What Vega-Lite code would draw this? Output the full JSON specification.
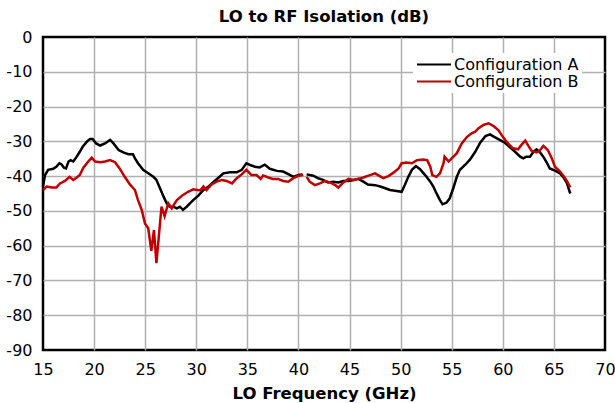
{
  "$schema": "https://vega.github.io/schema/vega-lite/v6.json",
  "width": 562,
  "height": 313,
  "autosize": {"type": "none"},
  "padding": {"left": 43, "top": 37, "right": 10, "bottom": 53},
  "background": "white",
  "title": {"text": "LO to RF Isolation (dB)", "font": "DejaVu Sans", "fontSize": 16.5, "fontWeight": "bold", "color": "black", "anchor": "middle", "baseline": "alphabetic", "offset": -9},
  "data": {"values": [
    {"series": "Configuration A", "freq": 15.0, "db": -43.0},
    {"series": "Configuration A", "freq": 15.2, "db": -39.7},
    {"series": "Configuration A", "freq": 15.5, "db": -38.2},
    {"series": "Configuration A", "freq": 16.0, "db": -37.9},
    {"series": "Configuration A", "freq": 16.3, "db": -37.3},
    {"series": "Configuration A", "freq": 16.6, "db": -36.3},
    {"series": "Configuration A", "freq": 16.8, "db": -36.6},
    {"series": "Configuration A", "freq": 17.05, "db": -37.6},
    {"series": "Configuration A", "freq": 17.25, "db": -37.8},
    {"series": "Configuration A", "freq": 17.5, "db": -35.8},
    {"series": "Configuration A", "freq": 17.7, "db": -35.4},
    {"series": "Configuration A", "freq": 17.97, "db": -35.8},
    {"series": "Configuration A", "freq": 18.3, "db": -34.4},
    {"series": "Configuration A", "freq": 18.6, "db": -33.0},
    {"series": "Configuration A", "freq": 18.9, "db": -31.5},
    {"series": "Configuration A", "freq": 19.3, "db": -30.1},
    {"series": "Configuration A", "freq": 19.6, "db": -29.3},
    {"series": "Configuration A", "freq": 19.86, "db": -29.3},
    {"series": "Configuration A", "freq": 20.2, "db": -30.6},
    {"series": "Configuration A", "freq": 20.6, "db": -31.2},
    {"series": "Configuration A", "freq": 21.07, "db": -30.6},
    {"series": "Configuration A", "freq": 21.56, "db": -29.6},
    {"series": "Configuration A", "freq": 21.9, "db": -30.6},
    {"series": "Configuration A", "freq": 22.4, "db": -32.5},
    {"series": "Configuration A", "freq": 22.86, "db": -33.2},
    {"series": "Configuration A", "freq": 23.35, "db": -33.7},
    {"series": "Configuration A", "freq": 23.8, "db": -33.7},
    {"series": "Configuration A", "freq": 24.0, "db": -34.9},
    {"series": "Configuration A", "freq": 24.3, "db": -36.3},
    {"series": "Configuration A", "freq": 24.8, "db": -38.2},
    {"series": "Configuration A", "freq": 25.3, "db": -39.2},
    {"series": "Configuration A", "freq": 25.8, "db": -40.2},
    {"series": "Configuration A", "freq": 26.1, "db": -41.1},
    {"series": "Configuration A", "freq": 26.45, "db": -43.5},
    {"series": "Configuration A", "freq": 26.8, "db": -45.9},
    {"series": "Configuration A", "freq": 27.1, "db": -47.8},
    {"series": "Configuration A", "freq": 27.4, "db": -48.8},
    {"series": "Configuration A", "freq": 27.75, "db": -48.8},
    {"series": "Configuration A", "freq": 28.1, "db": -49.3},
    {"series": "Configuration A", "freq": 28.4, "db": -48.8},
    {"series": "Configuration A", "freq": 28.7, "db": -49.7},
    {"series": "Configuration A", "freq": 29.06, "db": -48.8},
    {"series": "Configuration A", "freq": 29.4, "db": -47.8},
    {"series": "Configuration A", "freq": 29.7, "db": -46.9},
    {"series": "Configuration A", "freq": 30.2, "db": -45.6},
    {"series": "Configuration A", "freq": 30.7, "db": -44.0},
    {"series": "Configuration A", "freq": 31.2, "db": -43.0},
    {"series": "Configuration A", "freq": 31.7, "db": -41.6},
    {"series": "Configuration A", "freq": 32.2, "db": -40.4},
    {"series": "Configuration A", "freq": 32.65, "db": -39.2},
    {"series": "Configuration A", "freq": 33.3, "db": -38.9},
    {"series": "Configuration A", "freq": 33.96, "db": -38.9},
    {"series": "Configuration A", "freq": 34.45, "db": -38.2},
    {"series": "Configuration A", "freq": 34.9, "db": -36.3},
    {"series": "Configuration A", "freq": 35.26, "db": -36.8},
    {"series": "Configuration A", "freq": 35.75, "db": -37.3},
    {"series": "Configuration A", "freq": 36.2, "db": -37.5},
    {"series": "Configuration A", "freq": 36.7, "db": -36.7},
    {"series": "Configuration A", "freq": 37.2, "db": -37.9},
    {"series": "Configuration A", "freq": 37.9, "db": -38.5},
    {"series": "Configuration A", "freq": 38.5, "db": -38.7},
    {"series": "Configuration A", "freq": 39.2, "db": -39.7},
    {"series": "Configuration A", "freq": 39.5, "db": -40.2},
    {"series": "Configuration A", "freq": 39.98, "db": -39.7},
    {"series": "Configuration A", "freq": 40.4, "db": -39.5},
    {"series": "Configuration A", "freq": 40.6, "db": null},
    {"series": "Configuration A", "freq": 40.8, "db": -39.5},
    {"series": "Configuration A", "freq": 41.45, "db": -39.9},
    {"series": "Configuration A", "freq": 41.9, "db": -40.6},
    {"series": "Configuration A", "freq": 42.4, "db": -41.1},
    {"series": "Configuration A", "freq": 42.9, "db": -41.8},
    {"series": "Configuration A", "freq": 43.4, "db": -41.6},
    {"series": "Configuration A", "freq": 43.9, "db": -41.8},
    {"series": "Configuration A", "freq": 44.4, "db": -41.4},
    {"series": "Configuration A", "freq": 44.9, "db": -41.4},
    {"series": "Configuration A", "freq": 45.4, "db": -41.1},
    {"series": "Configuration A", "freq": 45.86, "db": -40.8},
    {"series": "Configuration A", "freq": 46.35, "db": -41.6},
    {"series": "Configuration A", "freq": 46.8, "db": -42.4},
    {"series": "Configuration A", "freq": 47.5, "db": -42.6},
    {"series": "Configuration A", "freq": 48.0, "db": -43.0},
    {"series": "Configuration A", "freq": 48.5, "db": -43.5},
    {"series": "Configuration A", "freq": 48.96, "db": -44.0},
    {"series": "Configuration A", "freq": 49.45, "db": -44.2},
    {"series": "Configuration A", "freq": 50.1, "db": -44.5},
    {"series": "Configuration A", "freq": 50.4, "db": -42.6},
    {"series": "Configuration A", "freq": 50.75, "db": -40.2},
    {"series": "Configuration A", "freq": 51.1, "db": -38.2},
    {"series": "Configuration A", "freq": 51.5, "db": -37.1},
    {"series": "Configuration A", "freq": 51.9, "db": -38.0},
    {"series": "Configuration A", "freq": 52.4, "db": -39.7},
    {"series": "Configuration A", "freq": 52.9, "db": -41.6},
    {"series": "Configuration A", "freq": 53.2, "db": -43.0},
    {"series": "Configuration A", "freq": 53.5, "db": -44.9},
    {"series": "Configuration A", "freq": 53.85, "db": -46.9},
    {"series": "Configuration A", "freq": 54.1, "db": -48.1},
    {"series": "Configuration A", "freq": 54.5, "db": -47.6},
    {"series": "Configuration A", "freq": 54.8, "db": -46.4},
    {"series": "Configuration A", "freq": 55.15, "db": -43.5},
    {"series": "Configuration A", "freq": 55.5, "db": -40.2},
    {"series": "Configuration A", "freq": 55.8, "db": -38.2},
    {"series": "Configuration A", "freq": 56.3, "db": -36.8},
    {"series": "Configuration A", "freq": 56.8, "db": -35.2},
    {"series": "Configuration A", "freq": 57.3, "db": -33.0},
    {"series": "Configuration A", "freq": 57.8, "db": -30.3},
    {"series": "Configuration A", "freq": 58.3, "db": -28.5},
    {"series": "Configuration A", "freq": 58.75, "db": -28.0},
    {"series": "Configuration A", "freq": 59.2, "db": -28.8},
    {"series": "Configuration A", "freq": 59.7, "db": -29.6},
    {"series": "Configuration A", "freq": 60.2, "db": -30.4},
    {"series": "Configuration A", "freq": 60.7, "db": -31.7},
    {"series": "Configuration A", "freq": 61.2, "db": -33.0},
    {"series": "Configuration A", "freq": 61.7, "db": -34.4},
    {"series": "Configuration A", "freq": 62.0, "db": -34.9},
    {"series": "Configuration A", "freq": 62.3, "db": -34.4},
    {"series": "Configuration A", "freq": 62.66, "db": -34.4},
    {"series": "Configuration A", "freq": 63.0, "db": -33.0},
    {"series": "Configuration A", "freq": 63.3, "db": -32.3},
    {"series": "Configuration A", "freq": 63.6, "db": -33.0},
    {"series": "Configuration A", "freq": 63.96, "db": -34.4},
    {"series": "Configuration A", "freq": 64.3, "db": -36.1},
    {"series": "Configuration A", "freq": 64.6, "db": -37.8},
    {"series": "Configuration A", "freq": 65.1, "db": -38.4},
    {"series": "Configuration A", "freq": 65.6, "db": -39.2},
    {"series": "Configuration A", "freq": 65.9, "db": -40.2},
    {"series": "Configuration A", "freq": 66.25, "db": -41.9},
    {"series": "Configuration A", "freq": 66.6, "db": -45.0},
    {"series": "Configuration B", "freq": 15.0, "db": -44.0},
    {"series": "Configuration B", "freq": 15.36, "db": -43.0},
    {"series": "Configuration B", "freq": 15.85, "db": -43.3},
    {"series": "Configuration B", "freq": 16.3, "db": -43.3},
    {"series": "Configuration B", "freq": 16.66, "db": -42.1},
    {"series": "Configuration B", "freq": 17.15, "db": -41.4},
    {"series": "Configuration B", "freq": 17.6, "db": -40.2},
    {"series": "Configuration B", "freq": 17.97, "db": -41.1},
    {"series": "Configuration B", "freq": 18.3, "db": -40.4},
    {"series": "Configuration B", "freq": 18.6, "db": -39.7},
    {"series": "Configuration B", "freq": 18.95, "db": -37.6},
    {"series": "Configuration B", "freq": 19.43, "db": -35.8},
    {"series": "Configuration B", "freq": 19.77, "db": -34.7},
    {"series": "Configuration B", "freq": 20.1, "db": -35.8},
    {"series": "Configuration B", "freq": 20.6, "db": -36.0},
    {"series": "Configuration B", "freq": 21.07, "db": -35.8},
    {"series": "Configuration B", "freq": 21.56, "db": -35.4},
    {"series": "Configuration B", "freq": 22.05, "db": -36.0},
    {"series": "Configuration B", "freq": 22.5, "db": -37.8},
    {"series": "Configuration B", "freq": 23.0, "db": -40.2},
    {"series": "Configuration B", "freq": 23.5, "db": -42.4},
    {"series": "Configuration B", "freq": 24.0, "db": -44.0},
    {"series": "Configuration B", "freq": 24.3, "db": -46.9},
    {"series": "Configuration B", "freq": 24.66, "db": -49.7},
    {"series": "Configuration B", "freq": 24.98, "db": -53.6},
    {"series": "Configuration B", "freq": 25.3, "db": -55.0},
    {"series": "Configuration B", "freq": 25.6, "db": -61.5},
    {"series": "Configuration B", "freq": 25.86, "db": -55.5},
    {"series": "Configuration B", "freq": 26.1, "db": -65.0},
    {"series": "Configuration B", "freq": 26.45, "db": -53.6},
    {"series": "Configuration B", "freq": 26.6, "db": -48.8},
    {"series": "Configuration B", "freq": 26.9, "db": -51.5},
    {"series": "Configuration B", "freq": 27.26, "db": -47.8},
    {"series": "Configuration B", "freq": 27.6, "db": -49.3},
    {"series": "Configuration B", "freq": 27.9, "db": -47.8},
    {"series": "Configuration B", "freq": 28.1, "db": -46.9},
    {"series": "Configuration B", "freq": 28.7, "db": -45.4},
    {"series": "Configuration B", "freq": 29.2, "db": -44.5},
    {"series": "Configuration B", "freq": 29.7, "db": -43.8},
    {"series": "Configuration B", "freq": 30.4, "db": -44.1},
    {"series": "Configuration B", "freq": 30.7, "db": -43.0},
    {"series": "Configuration B", "freq": 31.0, "db": -44.0},
    {"series": "Configuration B", "freq": 31.5, "db": -42.4},
    {"series": "Configuration B", "freq": 32.0, "db": -41.6},
    {"series": "Configuration B", "freq": 32.5, "db": -41.1},
    {"series": "Configuration B", "freq": 32.97, "db": -41.4},
    {"series": "Configuration B", "freq": 33.5, "db": -42.1},
    {"series": "Configuration B", "freq": 33.96, "db": -40.6},
    {"series": "Configuration B", "freq": 34.45, "db": -39.5},
    {"series": "Configuration B", "freq": 34.9, "db": -38.2},
    {"series": "Configuration B", "freq": 35.4, "db": -39.7},
    {"series": "Configuration B", "freq": 35.9, "db": -39.7},
    {"series": "Configuration B", "freq": 36.3, "db": -40.8},
    {"series": "Configuration B", "freq": 36.55, "db": -39.8},
    {"series": "Configuration B", "freq": 37.05, "db": -40.4},
    {"series": "Configuration B", "freq": 37.5, "db": -40.8},
    {"series": "Configuration B", "freq": 38.0, "db": -40.8},
    {"series": "Configuration B", "freq": 38.5, "db": -41.4},
    {"series": "Configuration B", "freq": 39.0, "db": -41.6},
    {"series": "Configuration B", "freq": 39.5, "db": -40.6},
    {"series": "Configuration B", "freq": 39.98, "db": -39.9},
    {"series": "Configuration B", "freq": 40.47, "db": -39.7},
    {"series": "Configuration B", "freq": 40.6, "db": null},
    {"series": "Configuration B", "freq": 40.8, "db": -40.2},
    {"series": "Configuration B", "freq": 41.1, "db": -41.6},
    {"series": "Configuration B", "freq": 41.6, "db": -42.6},
    {"series": "Configuration B", "freq": 42.1, "db": -42.1},
    {"series": "Configuration B", "freq": 42.6, "db": -41.4},
    {"series": "Configuration B", "freq": 43.1, "db": -41.8},
    {"series": "Configuration B", "freq": 43.6, "db": -42.6},
    {"series": "Configuration B", "freq": 43.9, "db": -43.3},
    {"series": "Configuration B", "freq": 44.4, "db": -41.8},
    {"series": "Configuration B", "freq": 44.9, "db": -40.8},
    {"series": "Configuration B", "freq": 45.4, "db": -41.1},
    {"series": "Configuration B", "freq": 45.86, "db": -40.8},
    {"series": "Configuration B", "freq": 46.35, "db": -40.4},
    {"series": "Configuration B", "freq": 47.0, "db": -39.7},
    {"series": "Configuration B", "freq": 47.5, "db": -39.2},
    {"series": "Configuration B", "freq": 48.3, "db": -40.6},
    {"series": "Configuration B", "freq": 48.8, "db": -40.0},
    {"series": "Configuration B", "freq": 49.3, "db": -39.0},
    {"series": "Configuration B", "freq": 49.8, "db": -37.8},
    {"series": "Configuration B", "freq": 50.1, "db": -36.3},
    {"series": "Configuration B", "freq": 50.6, "db": -36.1},
    {"series": "Configuration B", "freq": 51.1, "db": -36.3},
    {"series": "Configuration B", "freq": 51.6, "db": -35.4},
    {"series": "Configuration B", "freq": 52.2, "db": -35.2},
    {"series": "Configuration B", "freq": 52.6, "db": -35.4},
    {"series": "Configuration B", "freq": 52.9, "db": -37.3},
    {"series": "Configuration B", "freq": 53.1, "db": -39.7},
    {"series": "Configuration B", "freq": 53.5, "db": -40.2},
    {"series": "Configuration B", "freq": 53.85, "db": -39.2},
    {"series": "Configuration B", "freq": 54.2, "db": -36.3},
    {"series": "Configuration B", "freq": 54.3, "db": -34.4},
    {"series": "Configuration B", "freq": 54.7, "db": -35.8},
    {"series": "Configuration B", "freq": 55.0, "db": -34.9},
    {"series": "Configuration B", "freq": 55.5, "db": -33.4},
    {"series": "Configuration B", "freq": 55.98, "db": -30.6},
    {"series": "Configuration B", "freq": 56.5, "db": -28.7},
    {"series": "Configuration B", "freq": 56.95, "db": -27.7},
    {"series": "Configuration B", "freq": 57.3, "db": -27.2},
    {"series": "Configuration B", "freq": 57.6, "db": -26.3},
    {"series": "Configuration B", "freq": 58.1, "db": -25.3},
    {"series": "Configuration B", "freq": 58.6, "db": -24.8},
    {"series": "Configuration B", "freq": 59.1, "db": -25.6},
    {"series": "Configuration B", "freq": 59.6, "db": -26.9},
    {"series": "Configuration B", "freq": 60.0, "db": -28.7},
    {"series": "Configuration B", "freq": 60.5, "db": -30.6},
    {"series": "Configuration B", "freq": 61.0, "db": -32.0},
    {"series": "Configuration B", "freq": 61.5, "db": -32.3},
    {"series": "Configuration B", "freq": 61.8, "db": -31.1},
    {"series": "Configuration B", "freq": 62.2, "db": -29.8},
    {"series": "Configuration B", "freq": 62.5, "db": -31.3},
    {"series": "Configuration B", "freq": 62.8, "db": -32.7},
    {"series": "Configuration B", "freq": 63.3, "db": -33.2},
    {"series": "Configuration B", "freq": 63.6, "db": -32.7},
    {"series": "Configuration B", "freq": 63.97, "db": -31.3},
    {"series": "Configuration B", "freq": 64.4, "db": -32.5},
    {"series": "Configuration B", "freq": 64.8, "db": -34.9},
    {"series": "Configuration B", "freq": 65.1, "db": -37.3},
    {"series": "Configuration B", "freq": 65.6, "db": -38.7},
    {"series": "Configuration B", "freq": 66.0, "db": -40.2},
    {"series": "Configuration B", "freq": 66.3, "db": -41.6},
    {"series": "Configuration B", "freq": 66.6, "db": -43.2}
  ]},
  "mark": {"type": "line", "strokeWidth": 2.5, "invalid": "break-paths-show-domains"},
  "encoding": {
    "x": {
      "field": "freq", "type": "quantitative",
      "scale": {"domain": [15, 70], "nice": false, "zero": false},
      "axis": {
        "title": "LO Frequency (GHz)",
        "values": [15, 20, 25, 30, 35, 40, 45, 50, 55, 60, 65, 70],
        "labelFlush": false,
        "gridOpacity": {"condition": {"test": "datum.value == 15 || datum.value == 70", "value": 0}, "value": 1}
      }
    },
    "y": {
      "field": "db", "type": "quantitative",
      "scale": {"domain": [-90, 0], "nice": false},
      "axis": {
        "title": null,
        "values": [0, -10, -20, -30, -40, -50, -60, -70, -80, -90],
        "labelFlush": false,
        "labelExpr": "'' + datum.value",
        "gridOpacity": {"condition": {"test": "datum.value == 0 || datum.value == -90", "value": 0}, "value": 1}
      }
    },
    "color": {
      "field": "series", "type": "nominal",
      "scale": {"domain": ["Configuration A", "Configuration B"], "range": ["#000000", "#c00000"]},
      "legend": {
        "orient": "none", "legendX": 370, "legendY": 16, "title": null,
        "symbolType": "stroke", "symbolSize": 1156, "symbolStrokeWidth": 2,
        "labelFont": "DejaVu Sans", "labelFontSize": 16, "labelColor": "black", "labelOffset": 2,
        "fillColor": "white", "padding": 3, "rowPadding": 0, "clipHeight": 17
      }
    }
  },
  "config": {
    "view": {"stroke": "black", "strokeWidth": 2.5},
    "axis": {
      "domain": false, "ticks": false, "tickSize": 0, "grid": true, "labelFlush": false,
      "gridColor": "#b0b0b0", "gridWidth": 1.5,
      "labelFont": "DejaVu Sans", "labelFontSize": 16, "labelColor": "black",
      "titleFont": "DejaVu Sans", "titleFontSize": 16.5, "titleFontWeight": "bold", "titleColor": "black"
    },
    "axisX": {"labelPadding": 11, "titlePadding": 8},
    "axisY": {"labelPadding": 11}
  }
}
